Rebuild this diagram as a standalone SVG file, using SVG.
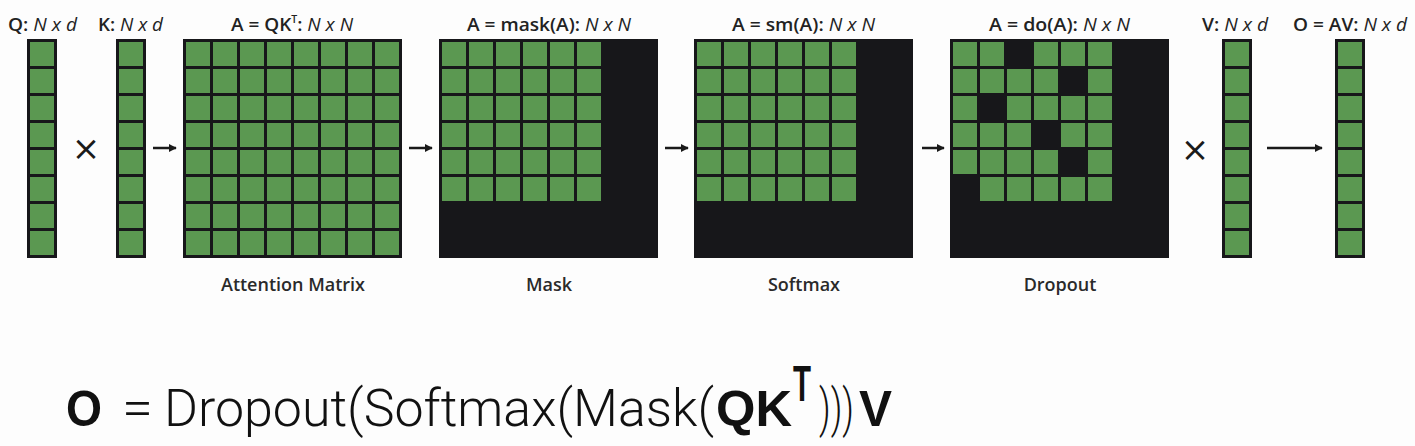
<svg xmlns="http://www.w3.org/2000/svg" width="1415" height="446" viewBox="0 0 1415 446">
<style>
.bg{fill:#17171a}
.cells{fill:url(#cells)}
.drop{fill:#17171a}
.lbl{font-family:"Open Sans","Liberation Sans",sans-serif;font-size:18px;fill:#222}
.lb{font-weight:600}
.li{font-style:italic;font-weight:400}
.cap{font-family:"Open Sans","Liberation Sans",sans-serif;font-size:18px;font-weight:600;fill:#2a2a2a}
.op{font-family:"DejaVu Sans","Liberation Sans",sans-serif;font-size:34px;fill:#1a1a1a}
.conn line{stroke:#1a1a1a;stroke-width:2.5}
.fr{font-family:"Roboto","Liberation Sans",sans-serif;font-weight:300;font-size:52px;fill:#111}
.fb{font-family:"Liberation Sans","Arial",sans-serif;font-weight:700;font-size:50px;fill:#111}
</style>
<defs>
<pattern id="cells" patternUnits="userSpaceOnUse" x="0" y="0" width="27" height="27">
<rect x="3" y="3" width="24" height="24" fill="#5b9851"/>
</pattern>
<marker id="ah" viewBox="0 0 10 10" refX="9" refY="5" markerWidth="3.2" markerHeight="3.2" orient="auto" markerUnits="strokeWidth">
<path d="M0,0 L10,5 L0,10 z" fill="#1a1a1a"/>
</marker>
</defs>
<rect width="1415" height="446" fill="#fdfdfd"/>

<g id="labels-top">
<text class="lbl" x="8" y="31" textLength="69" lengthAdjust="spacingAndGlyphs"><tspan class="lb">Q:</tspan> <tspan class="li">N x d</tspan></text>
<text class="lbl" x="98" y="31" textLength="65" lengthAdjust="spacingAndGlyphs"><tspan class="lb">K:</tspan> <tspan class="li">N x d</tspan></text>
<text class="lbl" x="231" y="31" textLength="122" lengthAdjust="spacingAndGlyphs"><tspan class="lb">A = QK</tspan><tspan class="lb" font-size="10" dy="-8">T</tspan><tspan class="lb" dy="8">:</tspan> <tspan class="li">N x N</tspan></text>
<text class="lbl" x="467" y="31" textLength="164" lengthAdjust="spacingAndGlyphs"><tspan class="lb">A = mask(A):</tspan> <tspan class="li">N x N</tspan></text>
<text class="lbl" x="732" y="31" textLength="143" lengthAdjust="spacingAndGlyphs"><tspan class="lb">A = sm(A):</tspan> <tspan class="li">N x N</tspan></text>
<text class="lbl" x="989" y="31" textLength="141" lengthAdjust="spacingAndGlyphs"><tspan class="lb">A = do(A):</tspan> <tspan class="li">N x N</tspan></text>
<text class="lbl" x="1202" y="31" textLength="66" lengthAdjust="spacingAndGlyphs"><tspan class="lb">V:</tspan> <tspan class="li">N x d</tspan></text>
<text class="lbl" x="1293" y="31" textLength="114" lengthAdjust="spacingAndGlyphs"><tspan class="lb">O = AV:</tspan> <tspan class="li">N x d</tspan></text>
</g>

<g id="Q" transform="translate(27,39)">
<rect class="bg" width="30" height="219"/><rect class="cells" width="30" height="219"/>
</g>
<g id="K" transform="translate(116,39)">
<rect class="bg" width="30" height="219"/><rect class="cells" width="30" height="219"/>
</g>
<g id="attention" transform="translate(183,39)">
<rect class="bg" width="219" height="219"/><rect class="cells" width="219" height="219"/>
<text class="cap" x="110" y="252" text-anchor="middle">Attention Matrix</text>
</g>
<g id="mask" transform="translate(439,39)">
<rect class="bg" width="219" height="219"/><rect class="cells" width="165" height="165"/>
<text class="cap" x="110" y="252" text-anchor="middle">Mask</text>
</g>
<g id="softmax" transform="translate(694,39)">
<rect class="bg" width="219" height="219"/><rect class="cells" width="165" height="165"/>
<text class="cap" x="110" y="252" text-anchor="middle">Softmax</text>
</g>
<g id="dropout" transform="translate(950,39)">
<rect class="bg" width="219" height="219"/><rect class="cells" width="165" height="165"/>
<rect class="drop" x="57" y="3" width="24" height="24"/>
<rect class="drop" x="111" y="30" width="24" height="24"/>
<rect class="drop" x="30" y="57" width="24" height="24"/>
<rect class="drop" x="84" y="84" width="24" height="24"/>
<rect class="drop" x="111" y="111" width="24" height="24"/>
<rect class="drop" x="3" y="138" width="24" height="24"/>
<text class="cap" x="110" y="252" text-anchor="middle">Dropout</text>
</g>
<g id="V" transform="translate(1222,39)">
<rect class="bg" width="30" height="219"/><rect class="cells" width="30" height="219"/>
</g>
<g id="O" transform="translate(1335,39)">
<rect class="bg" width="30" height="219"/><rect class="cells" width="30" height="219"/>
</g>

<g id="operators">
<text class="op" x="86" y="160" text-anchor="middle">×</text>
<text class="op" x="1195" y="161" text-anchor="middle">×</text>
</g>

<g id="connectors" class="conn">
<line x1="153" y1="148" x2="176" y2="148" marker-end="url(#ah)"/>
<line x1="409" y1="148" x2="432" y2="148" marker-end="url(#ah)"/>
<line x1="665" y1="148" x2="688" y2="148" marker-end="url(#ah)"/>
<line x1="922" y1="148" x2="944" y2="148" marker-end="url(#ah)"/>
<line x1="1267" y1="148" x2="1322" y2="148" marker-end="url(#ah)"/>
</g>

<g id="formula">
<text class="fb" x="66" y="426" textLength="36" lengthAdjust="spacingAndGlyphs">O</text>
<text class="fr" x="122" y="426" textLength="31" lengthAdjust="spacingAndGlyphs">=</text>
<text class="fr" x="164" y="426" textLength="550" lengthAdjust="spacingAndGlyphs">Dropout(Softmax(Mask(</text>
<text class="fb" x="716" y="426" textLength="76" lengthAdjust="spacingAndGlyphs">QK</text>
<text class="fb" x="793" y="401" font-size="22" textLength="18" lengthAdjust="spacingAndGlyphs">T</text>
<text class="fr" x="819" y="426" textLength="35" lengthAdjust="spacingAndGlyphs">)))</text>
<text class="fb" x="859" y="426" textLength="33" lengthAdjust="spacingAndGlyphs">V</text>
</g>
</svg>
